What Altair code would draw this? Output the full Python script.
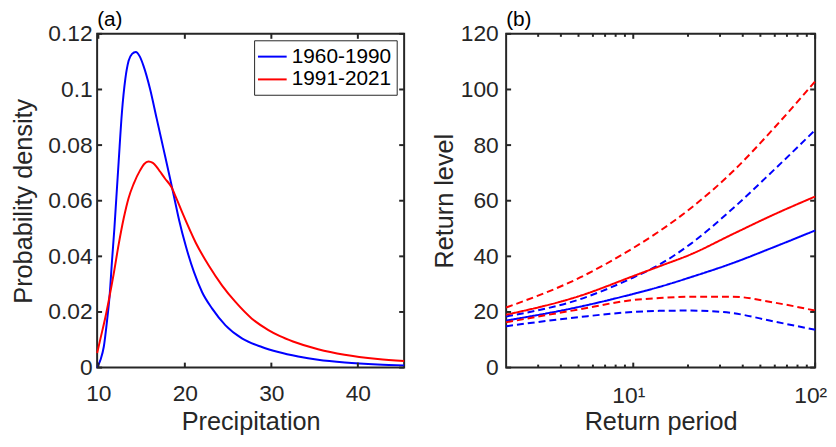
import altair as alt
import pandas as pd

FONT = "Liberation Sans"
AX = "#262626"

# ---------------- Panel (a): probability density ----------------
periods = ["1960-1990", "1991-2021"]
colors = ["#0000ff", "#ff0000"]

precip_1960 = [9.86, 10.25, 10.63, 11.01, 11.32, 11.58, 11.86, 12.08, 12.35, 12.73,
               13.12, 13.50, 13.9, 14.33, 14.8, 15.22, 15.98, 16.74, 17.51, 18.28,
               18.85, 19.34, 20.11, 21.06, 22.0, 23.16, 24.7, 26.6, 28.9, 30.8,
               33.1, 35.4, 38.5, 42.3, 45.35]
dens_1960 = [0.0, 0.0028, 0.0075, 0.017, 0.0265, 0.0384, 0.0503, 0.061, 0.0741, 0.0919,
             0.1038, 0.1103, 0.1128, 0.1135, 0.1118, 0.1085, 0.1002, 0.0896, 0.0789, 0.0682,
             0.0600, 0.0530, 0.0437, 0.0343, 0.0271, 0.0212, 0.0152, 0.0105, 0.0074, 0.0056,
             0.0040, 0.0028, 0.0018, 0.0011, 0.0008]

precip_1991 = [9.86, 10.25, 10.82, 11.2, 11.77, 12.35, 12.92, 13.5, 14.07, 14.84,
               15.3, 15.79, 16.3, 16.74, 17.13, 17.7, 18.43, 19.0, 19.72, 21.26,
               22.78, 24.31, 25.85, 27.75, 29.66, 31.0, 32.5, 35.4, 38.46, 42.3, 45.35]
dens_1991 = [0.0052, 0.0105, 0.0182, 0.0241, 0.0336, 0.0443, 0.0535, 0.0610, 0.0660, 0.0710,
             0.0732, 0.0741, 0.0736, 0.0722, 0.0705, 0.068, 0.065, 0.061, 0.0556, 0.0449,
             0.0366, 0.0295, 0.0236, 0.0176, 0.0135, 0.0113, 0.0094, 0.0066, 0.0046, 0.0031, 0.0024]

x_ticks_a = [10, 20, 30, 40]
y_ticks_a = [0, 0.02, 0.04, 0.06, 0.08, 0.1, 0.12]
x_domain_a = [9.86, 45.35]
y_domain_a = [0, 0.12]

# ---------------- Panel (b): return levels ----------------
return_period = [2, 5.1, 10, 13.9, 20.7, 35, 59.2, 100]
rl_1960 = [16.9, 21.9, 26.5, 29.0, 32.5, 37.5, 43.3, 49.3]
rl_1960_lo = [14.9, 18.2, 20.0, 20.4, 20.5, 19.6, 16.6, 13.6]
rl_1960_hi = [18.4, 24.6, 32.4, 37.0, 44.5, 57.0, 71.0, 85.4]
rl_1991 = [19.0, 25.8, 32.9, 36.4, 40.7, 47.9, 55.0, 61.5]
rl_1991_lo = [16.3, 21.0, 24.3, 25.0, 25.5, 25.5, 23.4, 20.5]
rl_1991_hi = [21.6, 32.4, 43.0, 49.0, 57.3, 70.3, 86.0, 102.9]

x_major_b = [10, 100]
x_minor_b = [3, 4, 5, 6, 7, 8, 9, 20, 30, 40, 50, 60, 70, 80, 90]
y_ticks_b = [0, 20, 40, 60, 80, 100, 120]
x_domain_b = [2, 100]
y_domain_b = [0, 120]

W_A, W_B, H = 310, 312, 337
MAJ, MIN = 5, 3

# ---------------- build tables ----------------
df_a = pd.concat([
    pd.DataFrame({"x": precip_1960, "y": dens_1960, "period": periods[0]}),
    pd.DataFrame({"x": precip_1991, "y": dens_1991, "period": periods[1]}),
])

rows = []
for per, est, lo, hi in [(periods[0], rl_1960, rl_1960_lo, rl_1960_hi),
                         (periods[1], rl_1991, rl_1991_lo, rl_1991_hi)]:
    for kind, vals in [("lower", lo), ("upper", hi), ("estimate", est)]:
        for t, v in zip(return_period, vals):
            rows.append({"x": t, "y": v, "period": per, "kind": kind,
                         "series": per + kind})
df_b = pd.DataFrame(rows)

tick_style = dict(color=AX, strokeWidth=2)

# ---------------- panel (a) ----------------
xs_a = alt.Scale(domain=x_domain_a, nice=False, zero=False)
ys_a = alt.Scale(domain=y_domain_a, nice=False, zero=False)
xax_a = alt.Axis(values=x_ticks_a, title="Precipitation", labelPadding=15.5,
                 titleY=43, titleBaseline="top", labelFlush=False)
yax_a = alt.Axis(values=y_ticks_a, format=".2~f", title="Probability density",
                 labelPadding=5, titleX=-66, titleBaseline="alphabetic", labelFlush=False)

lines_a = alt.Chart(df_a).mark_line(strokeWidth=2, interpolate="monotone").encode(
    x=alt.X("x:Q", scale=xs_a, axis=xax_a),
    y=alt.Y("y:Q", scale=ys_a, axis=yax_a),
    color=alt.Color("period:N", scale=alt.Scale(domain=periods, range=colors),
                    legend=alt.Legend(title=None, orient="none", legendX=158.5, legendY=6.5,
                                      symbolType="M-1.2,0H1.56", symbolSize=441,
                                      symbolStrokeWidth=2, symbolFillColor="transparent",
                                      labelOffset=10, padding=5,
                                      rowPadding=1, strokeColor=AX, fillColor="white",
                                      labelFontSize=21, labelFont=FONT, labelColor="#000000")),
    order=alt.Order("x:Q"),
)

tx_a = pd.DataFrame({"x": x_ticks_a})
ty_a = pd.DataFrame({"y": y_ticks_a})
ticks_a = [
    alt.Chart(tx_a).mark_rule(**tick_style).encode(
        x=alt.X("x:Q", scale=xs_a, axis=xax_a), y=alt.value(H), y2=alt.value(H - MAJ)),
    alt.Chart(tx_a).mark_rule(**tick_style).encode(
        x=alt.X("x:Q", scale=xs_a, axis=xax_a), y=alt.value(0), y2=alt.value(MAJ)),
    alt.Chart(ty_a).mark_rule(**tick_style).encode(
        y=alt.Y("y:Q", scale=ys_a, axis=yax_a), x=alt.value(0), x2=alt.value(MAJ)),
    alt.Chart(ty_a).mark_rule(**tick_style).encode(
        y=alt.Y("y:Q", scale=ys_a, axis=yax_a), x=alt.value(W_A), x2=alt.value(W_A - MAJ)),
]

panel_a = alt.layer(lines_a, *ticks_a).properties(
    width=W_A, height=H,
    title=alt.TitleParams("(a)", anchor="start", frame="group", fontSize=21, font=FONT,
                          fontWeight="normal", color="#000000", offset=-7.5),
)

# ---------------- panel (b) ----------------
xs_b = alt.Scale(type="log", domain=x_domain_b, nice=False)
ys_b = alt.Scale(domain=y_domain_b, nice=False, zero=False)
xax_b = alt.Axis(values=x_major_b, labelExpr="datum.value == 10 ? '10¹' : '10²'",
                 title="Return period", labelPadding=17, titleY=43,
                 titleBaseline="top", labelFlush=False, labelOffset=-5)
yax_b = alt.Axis(values=y_ticks_b, format="d", title="Return level",
                 labelPadding=8, titleX=-54, titleBaseline="alphabetic", labelFlush=False)

lines_b = alt.Chart(df_b).mark_line(strokeWidth=2, interpolate="monotone").encode(
    x=alt.X("x:Q", scale=xs_b, axis=xax_b),
    y=alt.Y("y:Q", scale=ys_b, axis=yax_b),
    color=alt.Color("period:N", scale=alt.Scale(domain=periods, range=colors), legend=None),
    strokeDash=alt.StrokeDash("kind:N", scale=alt.Scale(domain=["estimate", "lower", "upper"],
                                                        range=[[1, 0], [7, 4], [7, 4]]),
                              legend=None),
    detail="series:N",
    order=alt.Order("x:Q"),
)

tmaj_b = pd.DataFrame({"x": x_major_b})
tmin_b = pd.DataFrame({"x": x_minor_b})
ty_b = pd.DataFrame({"y": y_ticks_b})
ticks_b = [
    alt.Chart(tmaj_b).mark_rule(**tick_style).encode(
        x=alt.X("x:Q", scale=xs_b, axis=xax_b), y=alt.value(H), y2=alt.value(H - MAJ)),
    alt.Chart(tmaj_b).mark_rule(**tick_style).encode(
        x=alt.X("x:Q", scale=xs_b, axis=xax_b), y=alt.value(0), y2=alt.value(MAJ)),
    alt.Chart(tmin_b).mark_rule(**tick_style).encode(
        x=alt.X("x:Q", scale=xs_b, axis=xax_b), y=alt.value(H), y2=alt.value(H - MIN)),
    alt.Chart(tmin_b).mark_rule(**tick_style).encode(
        x=alt.X("x:Q", scale=xs_b, axis=xax_b), y=alt.value(0), y2=alt.value(MIN)),
    alt.Chart(ty_b).mark_rule(**tick_style).encode(
        y=alt.Y("y:Q", scale=ys_b, axis=yax_b), x=alt.value(0), x2=alt.value(MAJ)),
    alt.Chart(ty_b).mark_rule(**tick_style).encode(
        y=alt.Y("y:Q", scale=ys_b, axis=yax_b), x=alt.value(W_B), x2=alt.value(W_B - MAJ)),
]

panel_b = alt.layer(lines_b, *ticks_b).properties(
    width=W_B, height=H,
    title=alt.TitleParams("(b)", anchor="start", frame="group", fontSize=21, font=FONT,
                          fontWeight="normal", color="#000000", offset=-7.5),
)

chart = alt.hconcat(panel_a, panel_b, spacing=23).resolve_scale(
    color="independent", strokeDash="independent"
).properties(
    padding={"left": 3, "top": -2, "right": 0, "bottom": 0},
    background="white",
).configure_view(
    stroke=AX, strokeWidth=2
).configure_axis(
    grid=False, ticks=False, tickSize=0, domain=False,
    labelFont=FONT, labelFontSize=23, labelColor=AX,
    titleFont=FONT, titleFontSize=25.5, titleFontWeight="normal", titleColor=AX,
    labelOverlap=False,
)

chart.save("out.html", embed_options={"renderer": "svg", "actions": False})
